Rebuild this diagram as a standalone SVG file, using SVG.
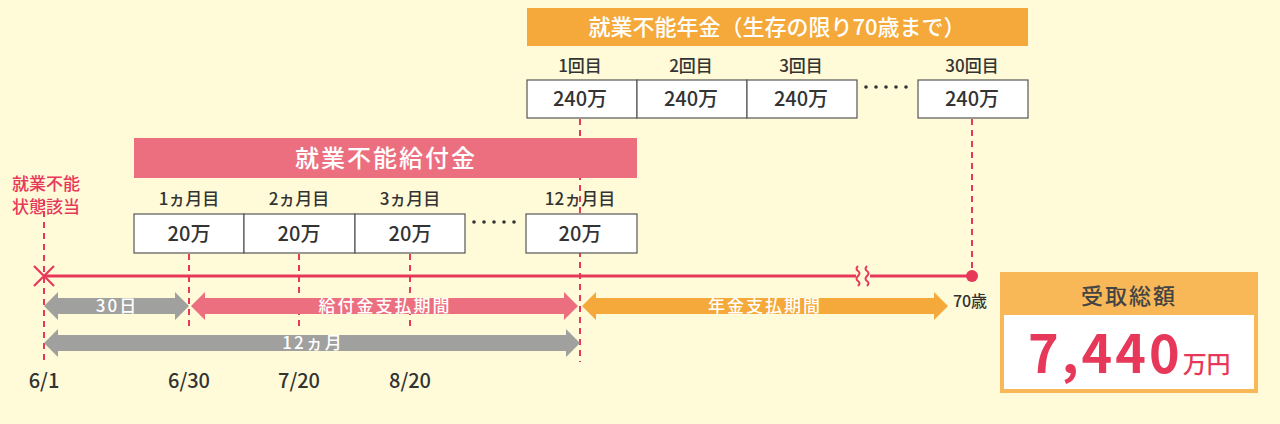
<svg xmlns="http://www.w3.org/2000/svg" width="1280" height="424" viewBox="0 0 1280 424">
<style>
text{font-family:"Noto Sans CJK JP","Noto Sans",sans-serif}
.lbl{font-size:17px;fill:#333;text-anchor:middle;font-weight:500}
.date{font-size:20px;fill:#333;text-anchor:middle;font-weight:500}
.box{fill:#fff;stroke:#555;stroke-width:1.2}
.amt{font-size:20px;fill:#333;text-anchor:middle;font-weight:500}
.dash{stroke:#e8385a;stroke-width:2;stroke-dasharray:6,5;fill:none}
.wt{fill:#fff;text-anchor:middle;font-weight:500}
.arr{fill:#fff;text-anchor:middle;font-size:17px;font-weight:500;letter-spacing:2px}
.dot{fill:#333}
</style>
<rect width="1280" height="424" fill="#fffbd9"/>
<g id="connectors">
<line class="dash" x1="44" y1="200" x2="44" y2="362"/>
<line class="dash" x1="189" y1="254" x2="189" y2="328"/>
<line class="dash" x1="299" y1="254" x2="299" y2="328"/>
<line class="dash" x1="410" y1="254" x2="410" y2="328"/>
<line class="dash" x1="580" y1="119" x2="580" y2="362"/>
<line class="dash" x1="972" y1="119" x2="972" y2="270"/>
<line x1="44" y1="276" x2="972" y2="276" stroke="#e8385a" stroke-width="3"/>
<rect x="856" y="268" width="14" height="16" fill="#fffbd9"/>
<path d="M858 266q-3 3 0 5t0 5 0 5 0 5M867 266q-3 3 0 5t0 5 0 5 0 5" stroke="#e8385a" stroke-width="2" fill="none"/>
<path d="M34 266l20 20M54 266l-20 20" stroke="#e8385a" stroke-width="2.2"/>
<circle cx="972" cy="276" r="6" fill="#e8385a"/>
<path d="M44 306l14-14v6h117v-6l14 14-14 14v-6h-117v6z" fill="#a0a09e"/>
<path d="M191 306l14-14v6h359v-6l14 14-14 14v-6h-359v6z" fill="#ec6f80"/>
<path d="M582 306l14-14v6h338v-6l14 14-14 14v-6h-338v6z" fill="#f5a93a"/>
<path d="M44 343l14-14v6h508v-6l14 14-14 14v-6h-508v6z" fill="#a0a09e"/>
<text class="arr" x="117" y="312">30日</text>
<text class="arr" x="385" y="312">給付金支払期間</text>
<text class="arr" x="765" y="312">年金支払期間</text>
<text class="arr" x="313" y="349">12ヵ月</text>
</g>
<g id="left-label">
<text x="46" y="190" font-size="17" font-weight="500" fill="#e8385a" text-anchor="middle">就業不能</text>
<text x="46" y="213" font-size="17" font-weight="500" fill="#e8385a" text-anchor="middle">状態該当</text>
</g>
<g id="dates">
<text class="date" x="44" y="388">6/1</text>
<text class="date" x="189" y="388">6/30</text>
<text class="date" x="299" y="388">7/20</text>
<text class="date" x="410" y="388">8/20</text>
<text x="970" y="307" font-size="16" font-weight="500" fill="#333" text-anchor="middle">70歳</text>
</g>
<g id="benefit">
<rect x="134" y="138" width="503" height="40" fill="#ec6f80"/>
<text class="wt" x="386" y="167" font-size="24" letter-spacing="2">就業不能給付金</text>
<text class="lbl" x="189" y="205">1ヵ月目</text>
<text class="lbl" x="299" y="205">2ヵ月目</text>
<text class="lbl" x="410" y="205">3ヵ月目</text>
<text class="lbl" x="580" y="205">12ヵ月目</text>
<rect class="box" x="134" y="214" width="110" height="39"/>
<rect class="box" x="244" y="214" width="111" height="39"/>
<rect class="box" x="355" y="214" width="110" height="39"/>
<rect class="box" x="526" y="214" width="111" height="39"/>
<text class="amt" x="189" y="241">20万</text>
<text class="amt" x="299" y="241">20万</text>
<text class="amt" x="410" y="241">20万</text>
<text class="amt" x="580" y="241">20万</text>
<circle class="dot" cx="474" cy="222" r="1.8"/><circle class="dot" cx="484" cy="222" r="1.8"/><circle class="dot" cx="494" cy="222" r="1.8"/><circle class="dot" cx="504" cy="222" r="1.8"/><circle class="dot" cx="514" cy="222" r="1.8"/>
</g>
<g id="pension">
<rect x="527" y="8" width="501" height="38" fill="#f5a93a"/>
<text class="wt" x="777" y="35" font-size="22">就業不能年金（生存の限り70歳まで）</text>
<text class="lbl" x="580" y="72">1回目</text>
<text class="lbl" x="691" y="72">2回目</text>
<text class="lbl" x="801" y="72">3回目</text>
<text class="lbl" x="972" y="72">30回目</text>
<rect class="box" x="527" y="80" width="110" height="38"/>
<rect class="box" x="637" y="80" width="110" height="38"/>
<rect class="box" x="747" y="80" width="110" height="38"/>
<rect class="box" x="918" y="80" width="110" height="38"/>
<text class="amt" x="580" y="106">240万</text>
<text class="amt" x="691" y="106">240万</text>
<text class="amt" x="801" y="106">240万</text>
<text class="amt" x="972" y="106">240万</text>
<circle class="dot" cx="866" cy="87" r="1.8"/><circle class="dot" cx="876" cy="87" r="1.8"/><circle class="dot" cx="886" cy="87" r="1.8"/><circle class="dot" cx="896" cy="87" r="1.8"/><circle class="dot" cx="906" cy="87" r="1.8"/>
</g>
<g id="total">
<rect x="1000" y="272" width="258" height="121" fill="#f8b858"/>
<rect x="1004" y="315" width="250" height="74" fill="#fff"/>
<text x="1129" y="304" font-size="22" font-weight="500" letter-spacing="2" fill="#444" text-anchor="middle">受取総額</text>
<text x="1028" y="373" font-size="52" font-weight="bold" letter-spacing="3" fill="#e8385a" font-family="Roboto,sans-serif">7,440<tspan font-size="24" dx="0" font-weight="500" letter-spacing="0" font-family="Noto Sans CJK JP,sans-serif">万円</tspan></text>
</g>
</svg>
